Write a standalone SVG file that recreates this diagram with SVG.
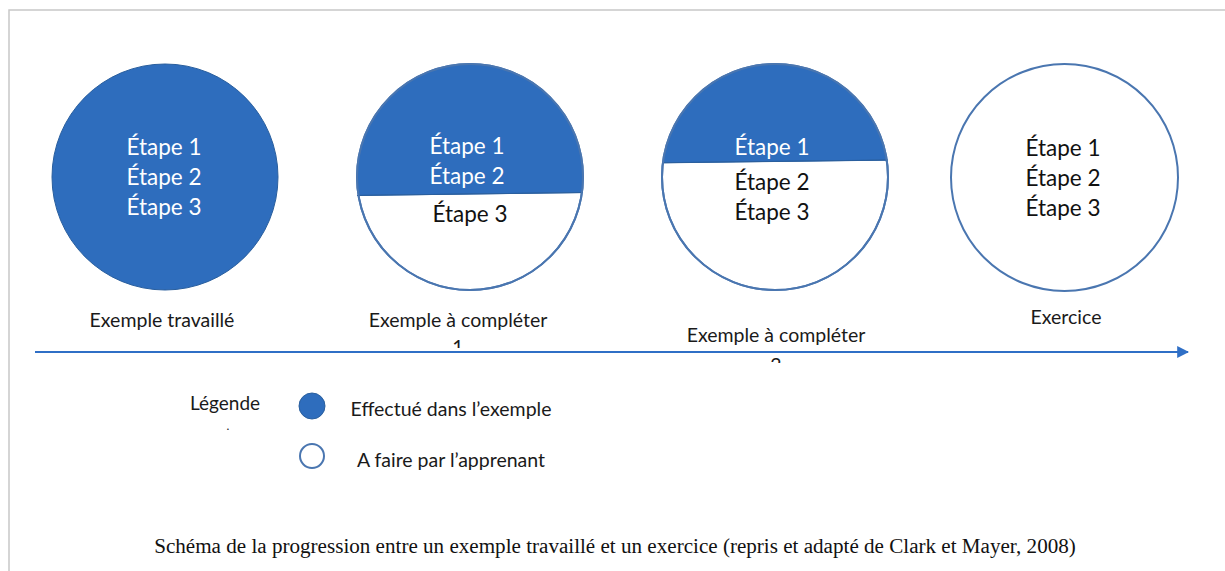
<svg xmlns="http://www.w3.org/2000/svg" width="1225" height="571" viewBox="0 0 1225 571">
<defs>
<style>
.lbl{font-family:"Gill Sans","Lato","Liberation Sans",sans-serif;fill:#1a1a1a;text-anchor:middle}
.stepW{font-family:"Gill Sans","Lato","Liberation Sans",sans-serif;font-size:22.5px;fill:#ffffff;text-anchor:middle}
.stepB{font-family:"Gill Sans","Lato","Liberation Sans",sans-serif;font-size:22.5px;fill:#111111;text-anchor:middle}
.full{fill:#2e6dbd;stroke:#2a5f9e;stroke-width:1}
.empty{fill:#ffffff;stroke:#4a76b0;stroke-width:2}
.cap{font-family:"Liberation Serif","Times New Roman",serif;font-size:21.1px;fill:#111;text-anchor:middle}
</style>
<marker id="arr" viewBox="0 0 10 10" refX="9" refY="5" markerWidth="6" markerHeight="6" orient="auto" markerUnits="strokeWidth">
<path d="M0,0 L10,5 L0,10 z" fill="#2f6fc6"/>
</marker>
<clipPath id="c1"><circle cx="470" cy="177" r="113"/></clipPath>
<clipPath id="c2"><circle cx="775" cy="177" r="113"/></clipPath>
<clipPath id="t1"><rect x="440" y="340" width="40" height="8"/></clipPath>
<clipPath id="t2"><rect x="760" y="355" width="40" height="8"/></clipPath>
</defs>
<rect x="0" y="0" width="1225" height="571" fill="#ffffff"/>
<path d="M9,571 V10 H1225" fill="none" stroke="#c8c8c8" stroke-width="1.5"/>

<g id="connectors">
<line x1="35" y1="352" x2="1188" y2="352" stroke="#2f6fc6" stroke-width="2" marker-end="url(#arr)"/>
</g>

<g id="node1">
<circle class="full" cx="165" cy="177" r="113"/>
<text class="stepW" x="164" y="155">Étape 1</text>
<text class="stepW" x="164" y="185">Étape 2</text>
<text class="stepW" x="164" y="215">Étape 3</text>
<text class="lbl" x="162" y="327" font-size="19.5">Exemple travaillé</text>
</g>

<g id="node2">
<circle class="empty" cx="470" cy="177" r="113"/>
<polygon points="350,50 590,50 590,192.5 350,195.5" class="full" clip-path="url(#c1)" stroke="none"/>
<line x1="357" y1="195.5" x2="583" y2="192.5" stroke="#2a5f9e" stroke-width="1"/>
<circle cx="470" cy="177" r="113" fill="none" stroke="#4a76b0" stroke-width="2"/>
<text class="stepW" x="467" y="154">Étape 1</text>
<text class="stepW" x="467" y="184">Étape 2</text>
<text class="stepB" x="470" y="222">Étape 3</text>
<text class="lbl" x="458" y="327" font-size="19.5">Exemple à compléter</text>
<text class="lbl" x="458" y="354" font-size="19.5" clip-path="url(#t1)">1</text>
</g>

<g id="node3">
<circle class="empty" cx="775" cy="177" r="113"/>
<polygon points="650,50 900,50 900,160 650,163" class="full" clip-path="url(#c2)" stroke="none"/>
<line x1="662" y1="162.7" x2="888" y2="160" stroke="#2a5f9e" stroke-width="1"/>
<circle cx="775" cy="177" r="113" fill="none" stroke="#4a76b0" stroke-width="2"/>
<text class="stepW" x="772" y="155">Étape 1</text>
<text class="stepB" x="772" y="190">Étape 2</text>
<text class="stepB" x="772" y="220">Étape 3</text>
<text class="lbl" x="776" y="342" font-size="19.5">Exemple à compléter</text>
<text class="lbl" x="776" y="372" font-size="19.5" clip-path="url(#t2)">2</text>
</g>

<g id="node4">
<circle class="empty" cx="1064.5" cy="177.5" r="113.5"/>
<text class="stepB" x="1063" y="156">Étape 1</text>
<text class="stepB" x="1063" y="186">Étape 2</text>
<text class="stepB" x="1063" y="216">Étape 3</text>
<text class="lbl" x="1066" y="324" font-size="19.5">Exercice</text>
</g>

<g id="legend">
<text class="lbl" x="225" y="410" font-size="19">Légende</text>
<text class="lbl" x="228" y="430" font-size="12">.</text>
<circle cx="312" cy="406" r="13" fill="#2e6dbd" stroke="#2a5f9e" stroke-width="1"/>
<text class="lbl" x="451" y="416" font-size="19.5">Effectué dans l’exemple</text>
<circle cx="312" cy="456" r="12" fill="#ffffff" stroke="#4a76b0" stroke-width="2"/>
<text class="lbl" x="451" y="467" font-size="19.5">A faire par l’apprenant</text>
</g>

<text class="cap" x="615" y="553">Schéma de la progression entre un exemple travaillé et un exercice (repris et adapté de Clark et Mayer, 2008)</text>
</svg>
